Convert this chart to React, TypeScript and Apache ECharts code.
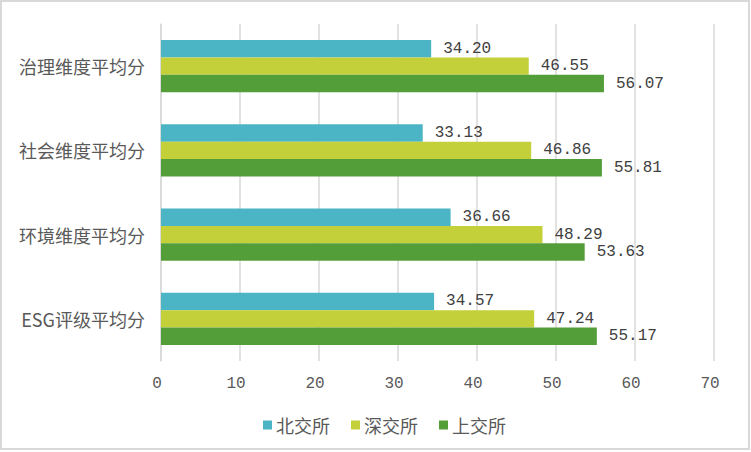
import React, { useEffect, useRef } from "react";
import * as echarts from "echarts";

const categories = ["ESG评级平均分", "环境维度平均分", "社会维度平均分", "治理维度平均分"];
const seriesNames = ["北交所", "深交所", "上交所"];
const beiValues = [34.57, 36.66, 33.13, 34.2];
const shenValues = [47.24, 48.29, 46.86, 46.55];
const shangValues = [55.17, 53.63, 55.81, 56.07];
const colors = { 北交所: "#4BB5C5", 深交所: "#C3D03A", 上交所: "#549E39" };

export default function App() {
  const ref = useRef<HTMLDivElement>(null);
  useEffect(() => {
    if (!ref.current) return;
    const chart = echarts.init(ref.current, null, { renderer: "svg" });
    const labelCfg = {
      show: true,
      position: "right",
      distance: 12,
      color: "#404040",
      fontFamily: "Liberation Mono",
      fontSize: 16,
      formatter: (p: any) => Number(p.value).toFixed(2),
    };
    const mk = (name: string, data: number[]) => ({
      name,
      type: "bar",
      data,
      barGap: "0%",
      barCategoryGap: "38%",
      itemStyle: { color: (colors as any)[name] },
      label: labelCfg,
    });
    chart.setOption({
      animation: false,
      backgroundColor: "#fff",
      graphic: [
        {
          type: "rect",
          shape: { x: 1, y: 1, width: 748, height: 448 },
          style: { fill: "none", stroke: "#D9D9D9", lineWidth: 2 },
          silent: true,
        },
      ],
      grid: { left: 161, right: 37, top: 24, bottom: 91 },
      legend: {
        data: seriesNames,
        left: 258,
        top: 411,
        itemWidth: 9,
        itemHeight: 9,
        itemGap: 21,
        icon: "rect",
        textStyle: { fontSize: 18, color: "#595959", fontFamily: "Noto Sans CJK SC", padding: [0, 0, 0, -1] },
      },
      xAxis: {
        type: "value",
        min: 0,
        max: 70,
        interval: 10,
        axisLine: { show: false },
        axisTick: { show: false },
        splitLine: { lineStyle: { color: "#D9D9D9", width: 1.5 } },
        axisLabel: {
          color: "#595959",
          fontSize: 16,
          fontFamily: "Liberation Mono",
          margin: 15,
          padding: [0, 8, 0, 0],
        },
      },
      yAxis: {
        type: "category",
        data: categories,
        axisLine: { show: true, lineStyle: { color: "#D9D9D9", width: 1.5 } },
        axisTick: { show: false },
        axisLabel: {
          color: "#595959",
          fontSize: 18,
          fontFamily: "Noto Sans CJK SC",
          margin: 16,
        },
      },
      series: [mk("北交所", beiValues), mk("深交所", shenValues), mk("上交所", shangValues)],
    });
    return () => chart.dispose();
  }, []);
  return (
    <div
      ref={ref}
      style={{ position: "fixed", left: 0, top: 0, width: 751, height: 452 }}
    />
  );
}
